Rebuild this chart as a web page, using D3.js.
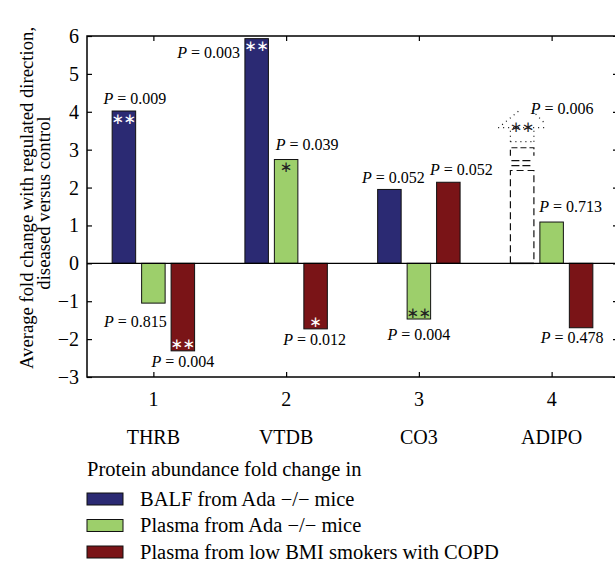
<!DOCTYPE html>
<html>
<head>
<meta charset="utf-8">
<script src="https://cdn.jsdelivr.net/npm/d3@7"></script>
<style>
  body { margin: 0; background: #fff; }
  svg { display: block; font-family: "Liberation Serif", "DejaVu Serif", serif; }
</style>
</head>
<body>
<div id="chart"></div>
<script>
// data
const categories = ["THRB", "VTDB", "CO3", "ADIPO"];
const xTicks = [1, 2, 3, 4];
const yTicks = [-3, -2, -1, 0, 1, 2, 3, 4, 5, 6];
const seriesNames = ["BALF from Ada \u2212/\u2212 mice", "Plasma from Ada \u2212/\u2212 mice", "Plasma from low BMI smokers with COPD"];
const balf = [4.02, 5.93, 1.95, 0];
const plasmaMice = [-1.05, 2.74, -1.47, 1.09];
const plasmaCopd = [-2.31, -1.73, 2.14, -1.70];
const pBalf = ["0.009", "0.003", "0.052", "0.006"];
const pPlasmaMice = ["0.815", "0.039", "0.004", "0.713"];
const pPlasmaCopd = ["0.004", "0.012", "0.052", "0.478"];
const starsBalf = [2, 2, 0, 2];
const starsPlasmaMice = [0, 1, 2, 0];
const starsPlasmaCopd = [2, 1, 0, 0];
// dashed sketch of the ADIPO BALF bar (levels in y units)
const sketchLevels = { body: 2.45, dash1: 2.71, dash2: 2.58, boxBottom: 2.84, boxTop: 3.05, dots: 3.21, stars: 3.58, tip: 4.03 };

const colors = ["#2b2a73", "#9dcf6b", "#7a1417"];
const width = 615, height = 564;
const margin = { top: 36, right: -3, bottom: 187, left: 87 };

const svg = d3.select("#chart").append("svg")
  .attr("width", width).attr("height", height);

const x = d3.scaleLinear().domain([0.5, 4.5]).range([margin.left, width - margin.right]);
const y = d3.scaleLinear().domain([-3, 6]).range([height - margin.bottom, margin.top]);
const off = 0.222, bw = 0.177;
const series = [balf, plasmaMice, plasmaCopd];
const pvals = [pBalf, pPlasmaMice, pPlasmaCopd];
const stars = [starsBalf, starsPlasmaMice, starsPlasmaCopd];

// bars
series.forEach((vals, s) => {
  svg.append("g").selectAll("rect")
    .data(vals.map((v, i) => ({ v, i })).filter(d => d.v !== 0))
    .join("rect")
    .attr("x", d => x(xTicks[d.i] + (s - 1) * off - bw / 2))
    .attr("width", x(bw) - x(0))
    .attr("y", d => y(Math.max(0, d.v)))
    .attr("height", d => Math.abs(y(d.v) - y(0)))
    .attr("fill", colors[s])
    .attr("stroke", "#111")
    .attr("stroke-width", 1);
});

// dashed sketch for ADIPO BALF
(function () {
  const cx = xTicks[3] - off;
  const l = x(cx - bw / 2), r = x(cx + bw / 2), c = x(cx);
  const yy = k => y(sketchLevels[k]);
  const g = svg.append("g").attr("fill", "none").attr("stroke", "#111").attr("stroke-width", 1.2);
  g.append("path").attr("stroke-dasharray", "7,4")
    .attr("d", `M${l},${y(0)}V${yy("body")}H${r}V${y(0)}`);
  g.append("path").attr("stroke-width", 1.3).attr("stroke-dasharray", "8,3")
    .attr("d", `M${l + 1},${yy("dash2")}H${r - 1}M${l + 1},${yy("dash1")}H${r - 1}`);
  g.append("path").attr("stroke-dasharray", "6,3")
    .attr("d", `M${l},${yy("boxBottom")}V${yy("boxTop")}H${r}V${yy("boxBottom")}`);
  g.append("path").attr("stroke-dasharray", "1,4")
    .attr("d", `M${l},${yy("dots")}H${r}M${l},${yy("dots")}V${yy("stars")}M${r},${yy("dots")}V${yy("stars")}`);
  g.append("path").attr("stroke-dasharray", "1,4")
    .attr("d", `M${c - 24},${yy("stars")}H${c + 24}M${c - 20},${yy("stars") - 3}L${c - 3},${yy("tip")}M${c + 10},${yy("tip")}L${c + 24},${yy("stars") - 3}`);
  svg.append("line").attr("x1", l).attr("x2", r).attr("y1", y(0)).attr("y2", y(0))
    .attr("stroke", "#111").attr("stroke-width", 1.5);
})();

// zero line
svg.append("line")
  .attr("x1", x(0.5)).attr("x2", x(4.5)).attr("y1", y(0)).attr("y2", y(0))
  .attr("stroke", "#000").attr("stroke-width", 1.2);

// axes (ticks inward, box)
const tickLen = 5;
svg.append("g").attr("transform", `translate(${x(0.5)},0)`)
  .call(d3.axisRight(y).tickValues(yTicks).tickSize(tickLen).tickFormat(""))
  .call(g => g.select(".domain").remove());
svg.append("g").attr("transform", `translate(${x(4.5)},0)`)
  .call(d3.axisLeft(y).tickValues(yTicks).tickSize(tickLen).tickFormat(""))
  .call(g => g.select(".domain").remove());
svg.append("g").attr("transform", `translate(0,${y(-3)})`)
  .call(d3.axisTop(x).tickValues(xTicks).tickSize(tickLen).tickFormat(""))
  .call(g => g.select(".domain").remove());
svg.append("g").attr("transform", `translate(0,${y(6)})`)
  .call(d3.axisBottom(x).tickValues(xTicks).tickSize(tickLen).tickFormat(""))
  .call(g => g.select(".domain").remove());
svg.selectAll(".tick line").attr("stroke", "#000").attr("stroke-width", 1.2);
svg.append("rect")
  .attr("x", x(0.5)).attr("y", y(6))
  .attr("width", x(4.5) - x(0.5)).attr("height", y(-3) - y(6))
  .attr("fill", "none").attr("stroke", "#000").attr("stroke-width", 1.5);

// tick labels
svg.append("g").selectAll("text").data(yTicks).join("text")
  .attr("x", x(0.5) - 8).attr("y", d => y(d)).attr("dy", "0.35em")
  .attr("text-anchor", "end").attr("font-size", 20)
  .text(d => d < 0 ? "\u2212" + Math.abs(d) : d);
svg.append("g").selectAll("text").data(xTicks).join("text")
  .attr("x", d => x(d)).attr("y", 406)
  .attr("text-anchor", "middle").attr("font-size", 20)
  .text(d => d);
svg.append("g").selectAll("text").data(categories).join("text")
  .attr("x", (d, i) => x(xTicks[i])).attr("y", 444)
  .attr("text-anchor", "middle").attr("font-size", 20)
  .text(d => d);

// y label
svg.append("text")
  .attr("transform", "translate(33,198) rotate(-90)")
  .attr("text-anchor", "middle").attr("font-size", 18.7)
  .text("Average fold change with regulated direction,");
svg.append("text")
  .attr("transform", "translate(50,203) rotate(-90)")
  .attr("text-anchor", "middle").attr("font-size", 18.7)
  .text("diseased versus control");

// P-value label layout: [dx from bar centre, dy from bar end] per series/category
const pLayout = [
  [[11, -13], [-48, 14], [4, -12], [40, -2]],
  [[-18, 18], [21, -15], [0, 15], [19, -16]],
  [[0, 11], [-1, 11], [13, -13], [-9, 10]]
];
const pG = svg.append("g").attr("font-size", 16);
series.forEach((vals, s) => {
  vals.forEach((v, i) => {
    const cx = x(xTicks[i] + (s - 1) * off);
    const end = s === 0 && i === 3 ? y(sketchLevels.tip) : y(v);
    const t = pG.append("text")
      .attr("x", cx + pLayout[s][i][0])
      .attr("y", end + pLayout[s][i][1])
      .attr("dy", "0.35em")
      .attr("text-anchor", "middle");
    t.append("tspan").attr("font-style", "italic").text("P");
    t.append("tspan").text(" = " + pvals[s][i]);
  });
});

// significance stars
const starColor = [["#fff", "#fff", "#fff", "#222"], ["#222", "#222", "#222", "#222"], ["#fff", "#fff", "#fff", "#fff"]];
const sG = svg.append("g").attr("font-size", 15).attr("font-family", "DejaVu Sans");
series.forEach((vals, s) => {
  vals.forEach((v, i) => {
    const n = stars[s][i];
    if (!n) return;
    const cx = x(xTicks[i] + (s - 1) * off);
    let cy;
    if (s === 0 && i === 3) cy = y(sketchLevels.stars);
    else cy = v > 0 ? y(v) + 8 : y(v) - 6;
    d3.range(n).forEach(k => {
      sG.append("text")
        .attr("x", cx + (n === 2 ? (k === 0 ? -6 : 6) : 0))
        .attr("y", cy).attr("dy", "0.3em")
        .attr("text-anchor", "middle")
        .attr("fill", starColor[s][i])
        .text("\u2217");
    });
  });
});

// legend
const lg = svg.append("g").attr("font-size", 20.5);
lg.append("text").attr("x", 87).attr("y", 476).text("Protein abundance fold change in");
seriesNames.forEach((name, s) => {
  const cy = 499 + s * 26.5;
  lg.append("rect").attr("x", 87).attr("y", cy - 6).attr("width", 36).attr("height", 12)
    .attr("fill", colors[s]).attr("stroke", "#111").attr("stroke-width", 1);
  lg.append("text").attr("x", 140).attr("y", cy).attr("dy", "0.33em").text(name);
});
</script>
</body>
</html>
